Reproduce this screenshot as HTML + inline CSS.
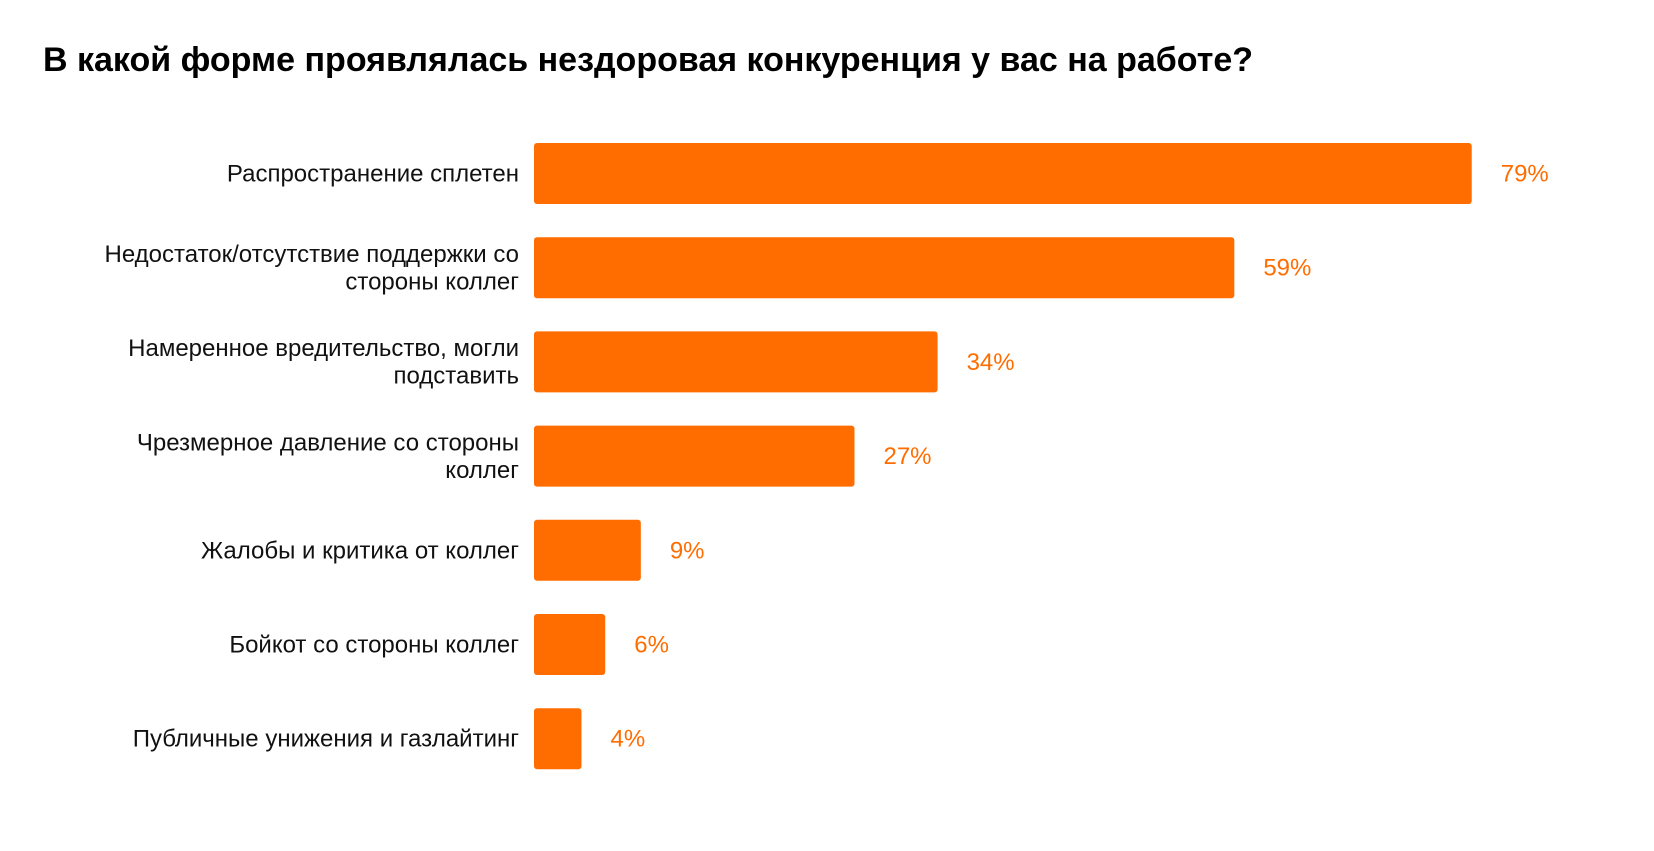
<!DOCTYPE html>
<html><head><meta charset="utf-8"><style>
body{margin:0;background:#fff;width:1654px;height:846px;overflow:hidden}
svg text{font-family:"Liberation Sans",sans-serif}
</style></head><body>
<svg id="chart" width="1654" height="846" xmlns="http://www.w3.org/2000/svg">
<text x="43" y="71" font-size="34" font-weight="bold" fill="#000">В какой форме проявлялась нездоровая конкуренция у вас на работе?</text>
<g id="bars"></g>
</svg>
<script>
const categories=[["Распространение сплетен"],["Недостаток/отсутствие поддержки со","стороны коллег"],["Намеренное вредительство, могли","подставить"],["Чрезмерное давление со стороны","коллег"],["Жалобы и критика от коллег"],["Бойкот со стороны коллег"],["Публичные унижения и газлайтинг"]];
const values=[79,59,34,27,9,6,4];
const valueLabels=["79%","59%","34%","27%","9%","6%","4%"];
const NS="http://www.w3.org/2000/svg";
const g=document.getElementById('bars');
const x0=534, unit=11.87, top0=143, step=94.2, bh=61;
function xs(v){return v*unit;}
function ys(i){return top0+i*step;}
values.forEach((v,i)=>{
  const y=ys(i);
  const r=document.createElementNS(NS,'rect');
  
  
  r.setAttribute('x',x0);r.setAttribute('y',y);r.setAttribute('width',xs(v));r.setAttribute('height',bh);
  r.setAttribute('rx',3);r.setAttribute('fill','#ff6d00');
  g.appendChild(r);
  const t=document.createElementNS(NS,'text');
  
  
  t.setAttribute('x',x0+xs(v)+29);t.setAttribute('y',y+bh/2+8);
  t.setAttribute('font-size','24');t.setAttribute('fill','#ff6d00');
  t.textContent=valueLabels[i];g.appendChild(t);
  const lines=categories[i];
  const c=document.createElementNS(NS,'text');
  
  
  c.setAttribute('text-anchor','end');c.setAttribute('font-size','24');c.setAttribute('fill','#111');
  const lh=27.5;
  const firstBase=y+bh/2+8-(lines.length-1)*lh/2;
  lines.forEach((s,k)=>{
    const ts=document.createElementNS(NS,'tspan');
    ts.setAttribute('x',519);ts.setAttribute('y',firstBase+k*lh);
    ts.textContent=s;c.appendChild(ts);
  });
  g.appendChild(c);
});
</script>
</body></html>
